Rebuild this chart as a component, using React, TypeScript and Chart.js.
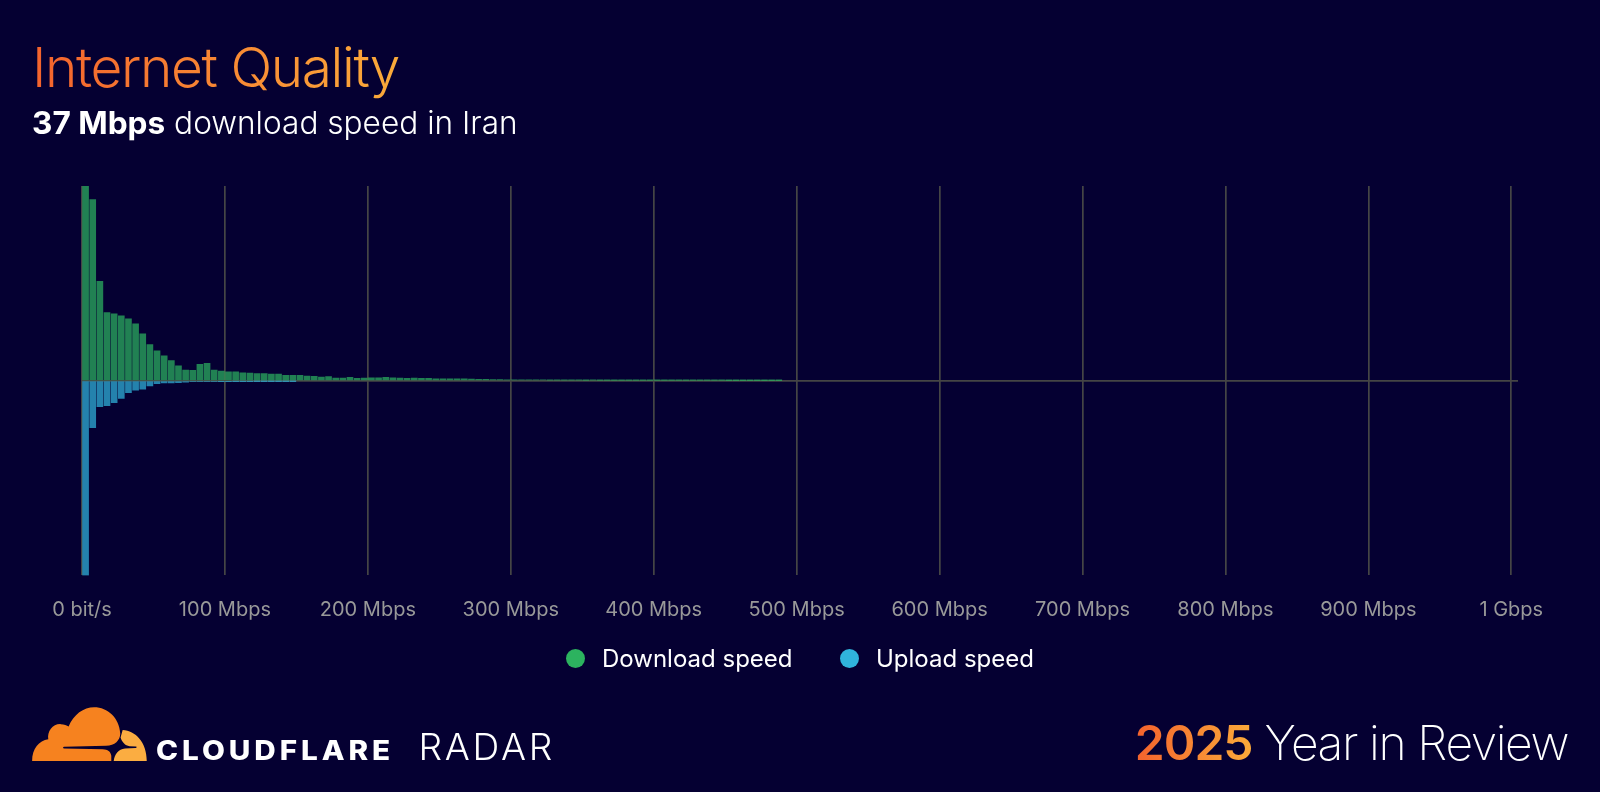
import React, { useEffect, useRef } from "react";
import { Chart, registerables } from "chart.js";

Chart.register(...registerables);

// share per 5 Mbps bucket, scaled so the tallest bar is 100
const downloadShare = [
	100, 93, 51, 35, 34.3, 33.3, 31.8, 29.2, 24.1, 18.5, 15.4, 12.8, 10.3, 7.7, 5.5, 5.3, 8.4, 8.9, 5.5, 5.0,
	4.5, 4.5, 4.1, 3.9, 3.7, 3.6, 3.4, 3.4, 2.7, 2.7, 2.7, 2.4, 2.2, 1.9, 2.1, 1.4, 1.4, 1.7, 1.2, 1.4,
	1.5, 1.5, 1.7, 1.5, 1.4, 1.2, 1.4, 1.2, 1.2, 1.0, 1.0, 1.0, 0.9, 0.9, 0.8, 0.7, 0.7, 0.6, 0.6, 0.5,
	0.5, 0.5, 0.4, 0.4, 0.4, 0.3, 0.3, 0.3, 0.3, 0.3, 0.2, 0.3, 0.2, 0.2, 0.2, 0.2, 0.2, 0.15, 0.2, 0.15,
	0.15, 0.1, 0.1, 0.15, 0.1, 0.1, 0.1, 0.08, 0.08, 0.1, 0.06, 0.06, 0.05, 0.04, 0.03, 0.03, 0.02, 0.02,
];
const uploadShare = [
	100, 24.1, 13.3, 12.8, 11.3, 9.1, 6.2, 4.8, 4.3, 2.7, 1.5, 1.2, 1.2, 1.0, 0.7, 0.5, 0.5, 0.5, 0.4, 0.3,
	0.3, 0.2, 0.2, 0.2, 0.1, 0.1, 0.1, 0.1, 0.1, 0.1,
];
const tickValues = [0, 100, 200, 300, 400, 500, 600, 700, 800, 900, 1000];
const tickLabels = [
	"0 bit/s",
	"100 Mbps",
	"200 Mbps",
	"300 Mbps",
	"400 Mbps",
	"500 Mbps",
	"600 Mbps",
	"700 Mbps",
	"800 Mbps",
	"900 Mbps",
	"1 Gbps",
];
const seriesNames = ["Download speed", "Upload speed"];
const seriesColors = ["#2cb35f", "#30b4dc"];

const BUCKET_MBPS = 5;
const FONT = "Inter, sans-serif";
const ORANGE_TEXT: React.CSSProperties = {
	background: "linear-gradient(90deg, #f4622d, #fbab3a)",
	WebkitBackgroundClip: "text",
	backgroundClip: "text",
	color: "transparent",
};

const App: React.FC = () => {
	const chartRef = useRef<HTMLCanvasElement | null>(null);

	useEffect(() => {
		if (!chartRef.current) return;

		const toPoints = (values: number[], sign: number) =>
			values.map((v, i) => ({ x: i * BUCKET_MBPS + BUCKET_MBPS / 2, y: v * sign }));

		const chart = new Chart(chartRef.current, {
			type: "bar",
			data: {
				datasets: [
					{
						label: seriesNames[0],
						data: toPoints(downloadShare, 1),
						backgroundColor: "rgba(44, 179, 95, 0.72)",
						barThickness: 6,
						grouped: false,
					},
					{
						label: seriesNames[1],
						data: toPoints(uploadShare, -1),
						backgroundColor: "rgba(48, 180, 220, 0.72)",
						barThickness: 6,
						grouped: false,
					},
				],
			},
			options: {
				responsive: false,
				animation: false,
				layout: { padding: { left: 82, right: 82, top: 186, bottom: 146.6 } },
				scales: {
					x: {
						type: "linear",
						min: 0,
						max: 1004.7,
						offset: false,
						border: { display: false },
						grid: { color: "#454545", lineWidth: 1.7, drawTicks: false, offset: false },
						// the axis runs a little past 1 Gbps, but has no tick there
						afterBuildTicks: (axis) => {
							axis.ticks = tickValues.map((value) => ({ value }));
						},
						ticks: {
							autoSkip: false,
							maxRotation: 0,
							padding: 23,
							color: "#999999",
							font: { family: FONT, size: 20 },
							callback: (value) => tickLabels[tickValues.indexOf(Number(value))],
						},
					},
					y: {
						min: -100,
						max: 100,
						border: { display: false },
						grid: {
							drawTicks: false,
							lineWidth: 1.7,
							color: (ctx) => (ctx.tick.value === 0 ? "#454545" : "transparent"),
						},
						ticks: { stepSize: 100, display: false },
					},
				},
				plugins: {
					legend: { display: false },
					tooltip: { enabled: false },
				},
			},
		});

		return () => chart.destroy();
	}, []);

	return (
		<div
			style={{
				position: "absolute",
				left: 0,
				top: 0,
				width: 1600,
				height: 792,
				overflow: "hidden",
				background: "#050032",
				fontFamily: FONT,
			}}
		>
			<canvas ref={chartRef} width={1600} height={792} style={{ position: "absolute", left: 0, top: 0 }} />
			<div style={{ position: "absolute", left: 32, top: 33, fontSize: 55, lineHeight: "68px", fontWeight: 300, letterSpacing: -1.4 }}>
				<span style={ORANGE_TEXT}>Internet Quality</span>
			</div>
			<div style={{ position: "absolute", left: 32, top: 104, fontSize: 31.6, lineHeight: "38px", color: "#fff", fontWeight: 300 }}>
				<b style={{ fontWeight: 700 }}>37 Mbps</b> download speed in Iran
			</div>
			{seriesNames.map((name, i) => (
				<div
					key={name}
					style={{
						position: "absolute",
						left: [566, 840][i],
						top: 643,
						height: 30,
						display: "flex",
						alignItems: "center",
						gap: 17,
						fontSize: 24,
						color: "#fff",
						whiteSpace: "nowrap",
					}}
				>
					<span style={{ width: 19, height: 19, borderRadius: "50%", background: seriesColors[i] }} />
					{name}
				</div>
			))}
			<svg width={540} height={70} viewBox="0 0 1568 203.3" style={{ position: "absolute", left: 20, top: 699 }}>
				<path
					fill="#f6821f"
					d="M35 180C35 145 55 120 82 117C78 95 95 72 118 73C128 73 136 76 141 80C155 45 185 24 215 24C255 24 288 55 291 100C291 120 275 135 250 136L128 139C124 139 124 144 128 144L240 146C255 147 263 152 265 165L265 180Z"
				/>
				<path
					fill="#fbad41"
					d="M298 90C335 92 368 125 368 180L272 180C275 160 285 146 305 144L336 142C340 141 340 138 336 138L318 137C305 136 296 125 292 112Z"
				/>
				<text
					transform="translate(395 178) scale(1.12 1)"
					fill="#fff"
					fontFamily={FONT}
					fontWeight={800}
					fontSize={77}
					textLength={607}
					lengthAdjust="spacing"
				>
					CLOUDFLARE
				</text>
				<text x={1157} y={176} fill="#fff" fontFamily={FONT} fontWeight={300} fontSize={108} letterSpacing={8}>
					RADAR
				</text>
			</svg>
			<div
				style={{
					position: "absolute",
					right: 32,
					top: 713,
					fontSize: 48,
					lineHeight: "60px",
					fontWeight: 200,
					color: "#fff",
					whiteSpace: "nowrap",
					letterSpacing: -1.4,
				}}
			>
				<span style={{ ...ORANGE_TEXT, fontWeight: 600, letterSpacing: -1 }}>2025</span> Year in Review
			</div>
		</div>
	);
};

export default App;
